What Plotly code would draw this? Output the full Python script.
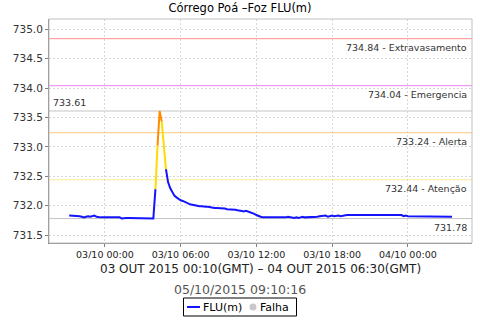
import pandas as pd
import plotly.graph_objects as go

# ---- data ----
start_time = "2015-10-02 21:10"
step = "10min"
flu_values = [
    731.83, 731.83, 731.83, 731.83, 731.82, 731.82,
    731.81, 731.80, 731.81, 731.82, 731.81, 731.82,
    731.83, 731.81, 731.80, 731.80, 731.80, 731.80,
    731.80, 731.80, 731.80, 731.80, 731.80, 731.80,
    731.80, 731.78, 731.79, 731.79, 731.79, 731.79,
    731.79, 731.79, 731.79, 731.78, 731.79, 731.78,
    731.79, 731.78, 731.79, 731.78, 731.78, 732.28,
    733.02, 733.61, 733.43, 733.02, 732.62, 732.40,
    732.30, 732.22, 732.17, 732.14, 732.11, 732.09,
    732.08, 732.06, 732.05, 732.03, 732.02, 732.01,
    732.00, 732.00, 731.99, 731.99, 731.98, 731.98,
    731.98, 731.97, 731.97, 731.96, 731.96, 731.96,
    731.95, 731.95, 731.95, 731.94, 731.94, 731.94,
    731.93, 731.93, 731.92, 731.92, 731.91, 731.90,
    731.91, 731.90, 731.89, 731.87, 731.86, 731.84,
    731.82, 731.81, 731.80, 731.80, 731.80, 731.79,
    731.80, 731.80, 731.80, 731.80, 731.79, 731.80,
    731.80, 731.80, 731.81, 731.80, 731.80, 731.79,
    731.80, 731.79, 731.80, 731.81, 731.80, 731.80,
    731.81, 731.81, 731.81, 731.81, 731.81, 731.82,
    731.82, 731.82, 731.83, 731.81, 731.82, 731.83,
    731.82, 731.83, 731.83, 731.82, 731.83, 731.83,
    731.84, 731.84, 731.84, 731.84, 731.84, 731.84,
    731.84, 731.84, 731.84, 731.84, 731.84, 731.84,
    731.84, 731.84, 731.84, 731.84, 731.84, 731.84,
    731.84, 731.84, 731.84, 731.84, 731.84, 731.84,
    731.84, 731.83, 731.84, 731.82, 731.83, 731.82,
    731.82, 731.82, 731.82, 731.82, 731.82, 731.82,
    731.82, 731.82, 731.82, 731.82, 731.82, 731.82,
    731.82, 731.82, 731.81, 731.81, 731.81, 731.81,
    731.81, 731.81, 731.81,
]
times = pd.date_range(start_time, periods=len(flu_values), freq=step)

threshold_values = [734.84, 734.04, 733.24, 732.44]
threshold_names = ["Extravasamento", "Emergencia", "Alerta", "Atenção"]
threshold_colors = ["#ff8c8c", "#ee82ee", "#ffc47f", "#f8ea94"]
max_value = 733.61
min_value = 731.78

y_ticks = [731.5, 732.0, 732.5, 733.0, 733.5, 734.0, 734.5, 735.0]

title_text = "Córrego Poá –Foz FLU(m)"
period_text = "03 OUT 2015 00:10(GMT) – 04 OUT 2015 06:30(GMT)"
stamp_text = "05/10/2015 09:10:16"
legend_labels = ["FLU(m)", "Falha"]

# ---- layout geometry ----
W, H = 480, 320
L, R, T, B = 49, 8, 19, 77
PW, PH = W - L - R, H - T - B

def px(x):
    return (x - L) / PW

def py(y):
    return (H - B - y) / PH

FONT = "DejaVu Sans"

# ---- colour-by-level segments ----
line_colors = {"blue": "#1414ff", "yellow": "#ffdc00", "orange": "#ff8c00"}

def level(v):
    if v >= threshold_values[2]:
        return "orange"
    if v >= threshold_values[3]:
        return "yellow"
    return "blue"

segs = {k: ([], []) for k in line_colors}
prev_c = None
for i in range(1, len(flu_values)):
    c = level(flu_values[i])
    xs, ys = segs[c]
    if c != prev_c:
        if xs:
            xs.append(None)
            ys.append(None)
        xs.append(times[i - 1])
        ys.append(flu_values[i - 1])
    xs.append(times[i])
    ys.append(flu_values[i])
    prev_c = c

fig = go.Figure()
for c in ["blue", "yellow", "orange"]:
    xs, ys = segs[c]
    fig.add_trace(go.Scatter(x=xs, y=ys, mode="lines",
                             line=dict(color=line_colors[c], width=2),
                             connectgaps=False, showlegend=False,
                             hoverinfo="skip"))

shapes = []
annotations = []
for v, n, col in zip(threshold_values, threshold_names, threshold_colors):
    shapes.append(dict(type="line", xref="paper", x0=0, x1=1, yref="y", y0=v, y1=v,
                       line=dict(color=col, width=1), layer="below"))
    annotations.append(dict(xref="paper", x=1, xanchor="right", xshift=-3,
                            yref="y", y=v, yanchor="top", yshift=-1,
                            text=f"{v:.2f} - {n}", showarrow=False,
                            font=dict(family=FONT, size=9.5, color="#333333")))
for v in [max_value, min_value]:
    shapes.append(dict(type="line", xref="paper", x0=0, x1=1, yref="y", y0=v, y1=v,
                       line=dict(color="#c4c4c4", width=1), layer="below"))
annotations.append(dict(xref="paper", x=0, xanchor="left", xshift=2,
                        yref="y", y=max_value, yanchor="bottom", yshift=1,
                        text=f"{max_value:.2f}", showarrow=False,
                        font=dict(family=FONT, size=9.5, color="#333333")))
annotations.append(dict(xref="paper", x=1, xanchor="right", xshift=-3,
                        yref="y", y=min_value, yanchor="top", yshift=-1,
                        text=f"{min_value:.2f}", showarrow=False,
                        font=dict(family=FONT, size=9.5, color="#333333")))

# plot border (top/right lighter)
shapes.append(dict(type="rect", xref="paper", yref="paper", x0=0, x1=1, y0=0, y1=1,
                   line=dict(color="#c0c0c0", width=1), layer="above"))

# texts under the chart
annotations.append(dict(xref="paper", yref="paper", x=px(260), xanchor="center", y=0,
                        yanchor="middle", yshift=-26, text=period_text, showarrow=False,
                        font=dict(family=FONT, size=12, color="#222222")))
annotations.append(dict(xref="paper", yref="paper", x=px(240), xanchor="center", y=0,
                        yanchor="middle", yshift=-46, text=stamp_text, showarrow=False,
                        font=dict(family=FONT, size=12.5, color="#555555")))

# manual legend
lg_top, lg_bot = 298, 316
lg_mid = (lg_top + lg_bot) / 2
shapes.append(dict(type="rect", xref="paper", yref="paper",
                   x0=px(183.5), x1=px(296.5), y0=py(lg_bot), y1=py(lg_top),
                   line=dict(color="#000000", width=1), fillcolor="white"))
shapes.append(dict(type="line", xref="paper", yref="paper",
                   x0=px(187), x1=px(200), y0=py(lg_mid), y1=py(lg_mid),
                   line=dict(color=line_colors["blue"], width=2)))
shapes.append(dict(type="circle", xref="paper", yref="paper",
                   x0=px(249.5), x1=px(256.5), y0=py(lg_mid + 3.5), y1=py(lg_mid - 3.5),
                   line=dict(color="#c8c8c8", width=0), fillcolor="#c8c8c8"))
annotations.append(dict(xref="paper", yref="paper", x=px(201), xanchor="left",
                        y=py(lg_mid), yanchor="middle", text=legend_labels[0],
                        showarrow=False, font=dict(family=FONT, size=11, color="#000000")))
annotations.append(dict(xref="paper", yref="paper", x=px(258), xanchor="left",
                        y=py(lg_mid), yanchor="middle", text=legend_labels[1],
                        showarrow=False, font=dict(family=FONT, size=11, color="#000000")))

fig.update_layout(
    width=W, height=H,
    margin=dict(l=L, r=R, t=T, b=B, pad=0, autoexpand=False),
    paper_bgcolor="white", plot_bgcolor="white",
    title=dict(text=title_text, x=0.5, xanchor="center", y=1 - 8 / H, yanchor="middle",
               yref="container", font=dict(family=FONT, size=11.5, color="#000000")),
    shapes=shapes, annotations=annotations,
    showlegend=False,
    xaxis=dict(type="date",
               range=["2015-10-02 19:34", "2015-10-04 05:05"],
               tick0="2015-10-03 00:00", dtick=6 * 3600 * 1000,
               tickformat="%d/%m %H:%M",
               tickfont=dict(family=FONT, size=9.5, color="#222222"),
               showgrid=True, gridcolor="#d6d6d6", griddash="2px,2px", gridwidth=1,
               showline=True, linecolor="#808080", linewidth=1,
               ticks="outside", ticklen=3, tickcolor="#808080",
               zeroline=False, automargin=False),
    yaxis=dict(range=[731.364, 735.175],
               tickvals=y_ticks, tickformat=".1f",
               tickfont=dict(family=FONT, size=10.5, color="#333333"),
               showgrid=True, gridcolor="#d6d6d6", griddash="2px,2px", gridwidth=1,
               showline=True, linecolor="#808080", linewidth=1,
               ticks="outside", ticklen=3, tickcolor="#808080",
               zeroline=False, automargin=False),
)

fig.write_html("out.html",
               config={"displayModeBar": False},
               post_script="document.body.style.margin='0';document.body.style.overflow='hidden';")
